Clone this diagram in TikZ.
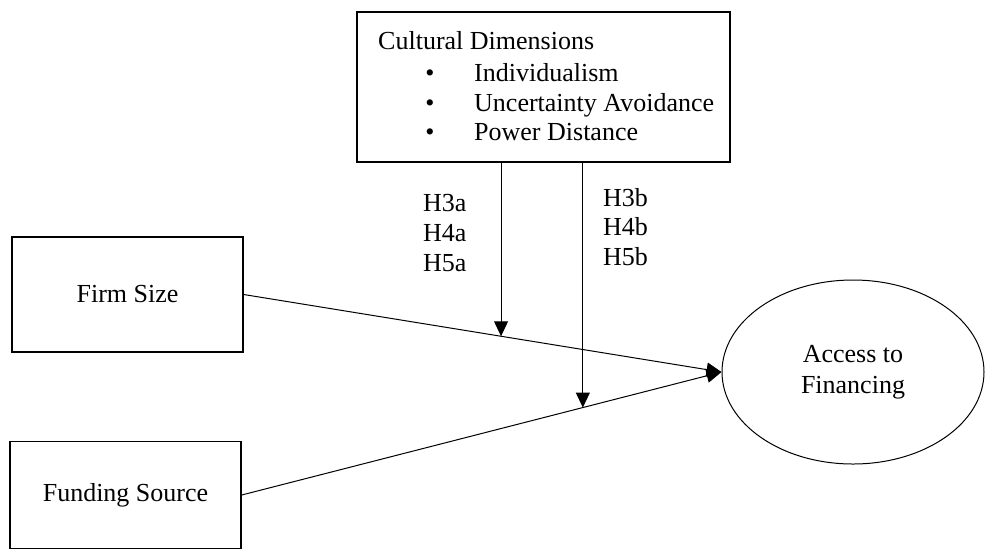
\documentclass[tikz,border=0pt]{standalone}
\usepackage{fontspec}
\setmainfont{Liberation Serif}
\usetikzlibrary{arrows.meta,shapes.geometric,calc}
\begin{document}
\begin{tikzpicture}[x=1pt,y=-1pt,
  txt/.style={inner sep=0pt,font=\fontsize{26}{31}\selectfont},
  boxnode/.style={draw,line width=1.4pt,rectangle,inner sep=0pt,font=\fontsize{26}{31}\selectfont},
  arr/.style={line width=1pt,-{Triangle[length=15pt,width=14pt]}}
]
\useasboundingbox (0,0) rectangle (987,550);
% top box
\node[boxnode,minimum width=373pt,minimum height=150pt] (cult) at (543.5,87) {};
\node[txt,anchor=base west] (t0) at (378,49) {Cultural Dimensions};
\node[txt,anchor=base] (b1) at (430,81) {•};
\node[txt,anchor=base] (b2) at (430,111) {•};
\node[txt,anchor=base] (b3) at (430,140) {•};
\node[txt,anchor=base west] (t1) at (474,81) {Individualism};
\node[txt,anchor=base west] (t2) at (474,111) {Uncertainty Avoidance};
\node[txt,anchor=base west] (t3) at (474,140) {Power Distance};
% left boxes
\node[boxnode,minimum width=231pt,minimum height=115pt] (firm) at (127.5,294.5) {Firm Size};
\node[boxnode,minimum width=231pt,minimum height=107pt] (fund) at (125.5,495) {Funding Source};
% ellipse
\node[draw,ellipse,line width=1pt,minimum width=262pt,minimum height=184pt,inner sep=0pt,
      align=center,font=\fontsize{26}{31}\selectfont] (acc) at (853,372) {Access to\\Financing};
% main arrows
\draw[arr] (firm.east) -- (acc.west);
\draw[arr] (fund.east) -- (acc.west);
\path (firm.east) -- (acc.west) coordinate[pos=0.5386] (m1);
\path (fund.east) -- (acc.west) coordinate[pos=0.711] (m2);
\draw[arr] (cult.south -| m1) -- (m1);
\draw[arr] (cult.south -| m2) -- (m2);
% labels
\node[txt,anchor=base west] (h3a) at (423,211) {H3a};
\node[txt,anchor=base west] (h4a) at (423,241) {H4a};
\node[txt,anchor=base west] (h5a) at (423,271) {H5a};
\node[txt,anchor=base west] (h3b) at (603,206) {H3b};
\node[txt,anchor=base west] (h4b) at (603,235) {H4b};
\node[txt,anchor=base west] (h5b) at (603,265) {H5b};
\end{tikzpicture}
\end{document}
